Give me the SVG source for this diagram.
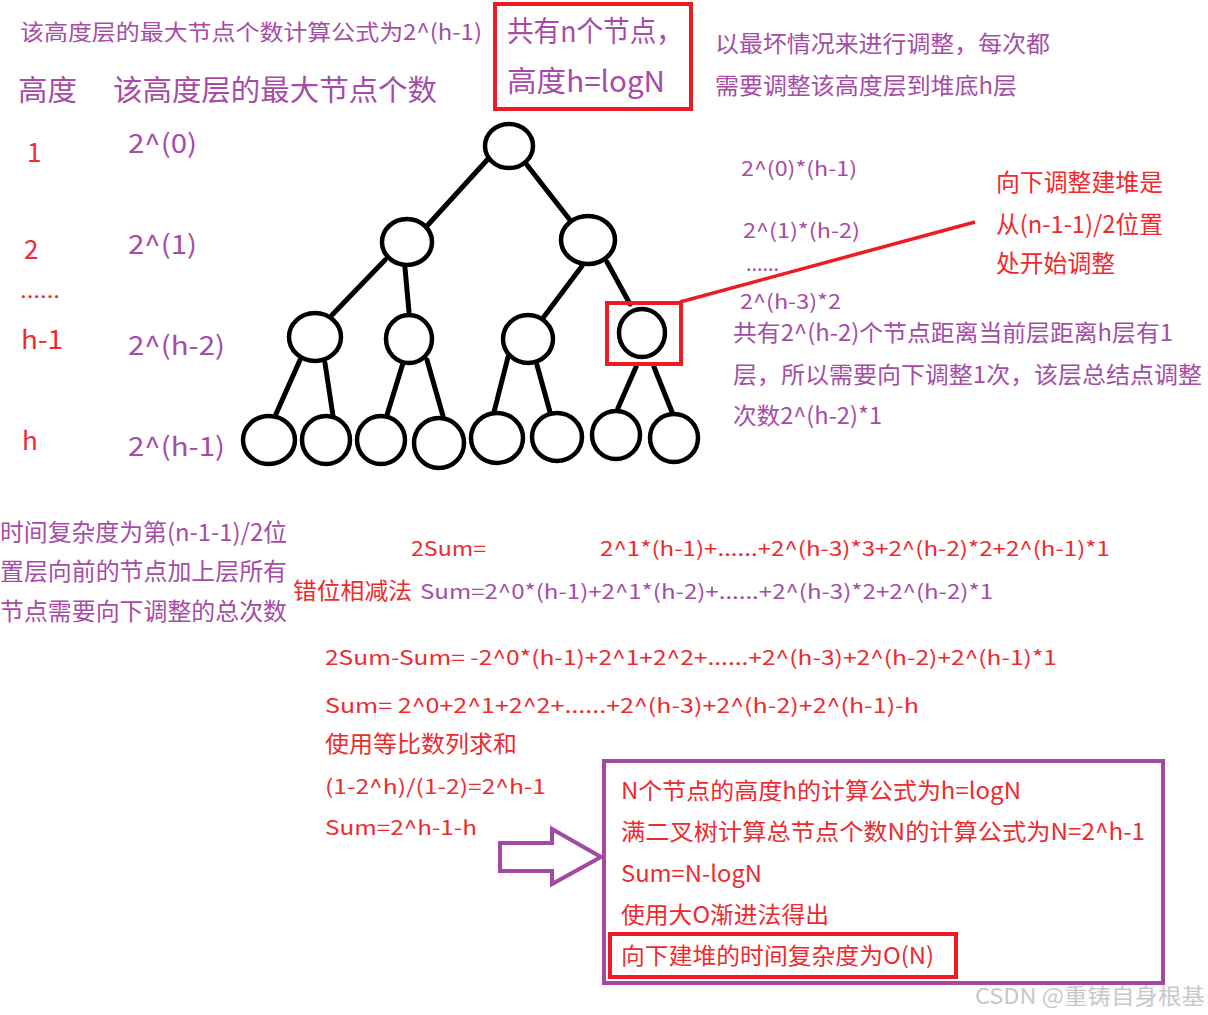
<svg xmlns="http://www.w3.org/2000/svg" width="1208" height="1015" viewBox="0 0 1208 1015">
<style>
text{font-family:"Noto Sans CJK SC","Noto Sans",sans-serif}
.p{fill:#a64ca6}
.r{fill:#ee2a2f}
.s20{font-size:20px}
.s22{font-size:22px}
.s23{font-size:23px}
.s24{font-size:24px}
.s26{font-size:26px}
.s29{font-size:29px}
.node{fill:#fff;stroke:#000;stroke-width:4.5}
.edge{stroke:#000;stroke-width:5;stroke-linecap:round}
.rbox{fill:none;stroke:#ed1c24;stroke-width:4}
.pbox{fill:none;stroke:#a349a4;stroke-width:4}
</style>
<rect width="1208" height="1015" fill="#fff"/>

<!-- top texts -->
<g id="title">
<text class="p s22" x="20" y="40" textLength="462" lengthAdjust="spacingAndGlyphs">该高度层的最大节点个数计算公式为2^(h-1)</text>
<text class="p s29" x="18" y="101" textLength="59" lengthAdjust="spacingAndGlyphs">高度</text>
<text class="p s29" x="113" y="101" textLength="324" lengthAdjust="spacingAndGlyphs">该高度层的最大节点个数</text>
</g>
<g id="summary-box">
<rect class="rbox" x="495" y="4" width="196" height="105"/>
<text class="p s29" x="507" y="42" textLength="176" lengthAdjust="spacingAndGlyphs">共有n个节点，</text>
<text class="p s29" x="507" y="92" textLength="158" lengthAdjust="spacingAndGlyphs">高度h=logN</text>
</g>
<g id="worst-case">
<text class="p s23" x="715" y="52" textLength="335" lengthAdjust="spacingAndGlyphs">以最坏情况来进行调整，每次都</text>
<text class="p s23" x="715" y="94" textLength="302" lengthAdjust="spacingAndGlyphs">需要调整该高度层到堆底h层</text>
</g>

<!-- left columns -->
<g id="heights">
<text class="r s26" x="27" y="162">1</text>
<text class="r s26" x="24" y="259">2</text>
<text class="r s20" x="20" y="298" textLength="40" lengthAdjust="spacingAndGlyphs">......</text>
<text class="r s26" x="21" y="349" textLength="42" lengthAdjust="spacingAndGlyphs">h-1</text>
<text class="r s26" x="22" y="450">h</text>
</g>
<g id="counts">
<text class="p s26" x="128" y="153" textLength="69" lengthAdjust="spacingAndGlyphs">2^(0)</text>
<text class="p s26" x="128" y="254" textLength="69" lengthAdjust="spacingAndGlyphs">2^(1)</text>
<text class="p s26" x="128" y="355" textLength="97" lengthAdjust="spacingAndGlyphs">2^(h-2)</text>
<text class="p s26" x="128" y="456" textLength="97" lengthAdjust="spacingAndGlyphs">2^(h-1)</text>
</g>

<!-- connectors -->
<g id="connectors">
<line class="edge" x1="488" y1="159" x2="426" y2="227"/>
<line class="edge" x1="527" y1="165" x2="570" y2="220"/>
<line class="edge" x1="385" y1="260" x2="332" y2="315"/>
<line class="edge" x1="405" y1="268" x2="409" y2="312"/>
<line class="edge" x1="582" y1="266" x2="543" y2="318"/>
<line class="edge" x1="607" y1="262" x2="630" y2="304"/>
<line class="edge" x1="300" y1="360" x2="276" y2="414"/>
<line class="edge" x1="325" y1="363" x2="333" y2="416"/>
<line class="edge" x1="403" y1="363" x2="387" y2="415"/>
<line class="edge" x1="427" y1="360" x2="443" y2="416"/>
<line class="edge" x1="508" y1="357" x2="494" y2="412"/>
<line class="edge" x1="537" y1="365" x2="550" y2="412"/>
<line class="edge" x1="636" y1="367" x2="618" y2="408"/>
<line class="edge" x1="654" y1="367" x2="672" y2="412"/>
<line x1="680" y1="302" x2="975" y2="222" stroke="#ed1c24" stroke-width="3.5"/>
</g>

<!-- tree nodes -->
<g id="n1"><ellipse class="node" cx="509" cy="146" rx="24" ry="22"/></g>
<g id="n2"><ellipse class="node" cx="407" cy="242" rx="25" ry="23"/></g>
<g id="n3"><ellipse class="node" cx="588" cy="240" rx="27" ry="24"/></g>
<g id="n4"><ellipse class="node" cx="315" cy="337" rx="26" ry="24"/></g>
<g id="n5"><ellipse class="node" cx="409" cy="339" rx="23" ry="24"/></g>
<g id="n6"><ellipse class="node" cx="528" cy="339" rx="25" ry="24"/></g>
<g id="n7"><ellipse class="node" cx="642" cy="333" rx="23" ry="24"/></g>
<g id="n8"><ellipse class="node" cx="269" cy="440" rx="26" ry="24"/></g>
<g id="n9"><ellipse class="node" cx="326" cy="440" rx="24" ry="24"/></g>
<g id="n10"><ellipse class="node" cx="381" cy="440" rx="24" ry="24"/></g>
<g id="n11"><ellipse class="node" cx="439" cy="443" rx="25" ry="25"/></g>
<g id="n12"><ellipse class="node" cx="497" cy="438" rx="26" ry="25"/></g>
<g id="n13"><ellipse class="node" cx="557" cy="437" rx="25" ry="24"/></g>
<g id="n14"><ellipse class="node" cx="616" cy="435" rx="24" ry="24"/></g>
<g id="n15"><ellipse class="node" cx="674" cy="438" rx="24" ry="24"/></g>
<g id="highlight"><rect class="rbox" x="607" y="303" width="74" height="61"/></g>

<!-- right texts -->
<g id="per-level">
<text class="p s20" x="741" y="176" textLength="116" lengthAdjust="spacingAndGlyphs">2^(0)*(h-1)</text>
<text class="p s20" x="743" y="238" textLength="117" lengthAdjust="spacingAndGlyphs">2^(1)*(h-2)</text>
<text class="p s20" x="746" y="271" textLength="33" lengthAdjust="spacingAndGlyphs">......</text>
<text class="p s20" x="740" y="309" textLength="101" lengthAdjust="spacingAndGlyphs">2^(h-3)*2</text>
</g>
<g id="start-note">
<text class="r s24" x="996" y="191" textLength="167" lengthAdjust="spacingAndGlyphs">向下调整建堆是</text>
<text class="r s24" x="996" y="233" textLength="167" lengthAdjust="spacingAndGlyphs">从(n-1-1)/2位置</text>
<text class="r s24" x="996" y="272" textLength="119" lengthAdjust="spacingAndGlyphs">处开始调整</text>
</g>
<g id="level-note">
<text class="p s23" x="733" y="341" textLength="440" lengthAdjust="spacingAndGlyphs">共有2^(h-2)个节点距离当前层距离h层有1</text>
<text class="p s23" x="733" y="383" textLength="469" lengthAdjust="spacingAndGlyphs">层，所以需要向下调整1次，该层总结点调整</text>
<text class="p s23" x="733" y="424" textLength="149" lengthAdjust="spacingAndGlyphs">次数2^(h-2)*1</text>
</g>

<!-- bottom -->
<g id="complexity-note">
<text class="p s24" x="0" y="541" textLength="287" lengthAdjust="spacingAndGlyphs">时间复杂度为第(n-1-1)/2位</text>
<text class="p s24" x="0" y="580" textLength="287" lengthAdjust="spacingAndGlyphs">置层向前的节点加上层所有</text>
<text class="p s24" x="0" y="620" textLength="287" lengthAdjust="spacingAndGlyphs">节点需要向下调整的总次数</text>
</g>
<g id="derivation">
<text class="r s20" x="411" y="556" textLength="75" lengthAdjust="spacingAndGlyphs">2Sum=</text>
<text class="r s20" x="600" y="556" textLength="510" lengthAdjust="spacingAndGlyphs">2^1*(h-1)+......+2^(h-3)*3+2^(h-2)*2+2^(h-1)*1</text>
<text class="r s23" x="293" y="599" textLength="119" lengthAdjust="spacingAndGlyphs">错位相减法</text>
<text class="p s20" x="420" y="599" textLength="573" lengthAdjust="spacingAndGlyphs">Sum=2^0*(h-1)+2^1*(h-2)+......+2^(h-3)*2+2^(h-2)*1</text>
<text class="r s20" x="325" y="665" textLength="732" lengthAdjust="spacingAndGlyphs">2Sum-Sum= -2^0*(h-1)+2^1+2^2+......+2^(h-3)+2^(h-2)+2^(h-1)*1</text>
<text class="r s20" x="325" y="713" textLength="594" lengthAdjust="spacingAndGlyphs">Sum= 2^0+2^1+2^2+......+2^(h-3)+2^(h-2)+2^(h-1)-h</text>
<text class="r s23" x="325" y="752" textLength="192" lengthAdjust="spacingAndGlyphs">使用等比数列求和</text>
<text class="r s20" x="325" y="794" textLength="221" lengthAdjust="spacingAndGlyphs">(1-2^h)/(1-2)=2^h-1</text>
<text class="r s20" x="325" y="835" textLength="152" lengthAdjust="spacingAndGlyphs">Sum=2^h-1-h</text>
</g>

<g id="arrow">
<path d="M500,843 H552 V829 L601,857 L552,884 V871 H500 Z" fill="none" stroke="#a349a4" stroke-width="4" stroke-linejoin="miter"/>
</g>

<g id="result-box">
<rect class="pbox" x="604" y="761" width="559" height="222"/>
<text class="r s23" x="621" y="799" textLength="400" lengthAdjust="spacingAndGlyphs">N个节点的高度h的计算公式为h=logN</text>
<text class="r s23" x="621" y="840" textLength="524" lengthAdjust="spacingAndGlyphs">满二叉树计算总节点个数N的计算公式为N=2^h-1</text>
<text class="r s23" x="621" y="882" textLength="141" lengthAdjust="spacingAndGlyphs">Sum=N-logN</text>
<text class="r s23" x="621" y="923" textLength="208" lengthAdjust="spacingAndGlyphs">使用大O渐进法得出</text>
<rect class="rbox" x="610" y="934" width="346" height="43"/>
<text class="r s23" x="621" y="964" textLength="313" lengthAdjust="spacingAndGlyphs">向下建堆的时间复杂度为O(N)</text>
</g>

<g id="watermark">
<text x="975" y="1004" font-size="22" fill="#c8c8c8" textLength="230" lengthAdjust="spacingAndGlyphs">CSDN @重铸自身根基</text>
</g>
</svg>
